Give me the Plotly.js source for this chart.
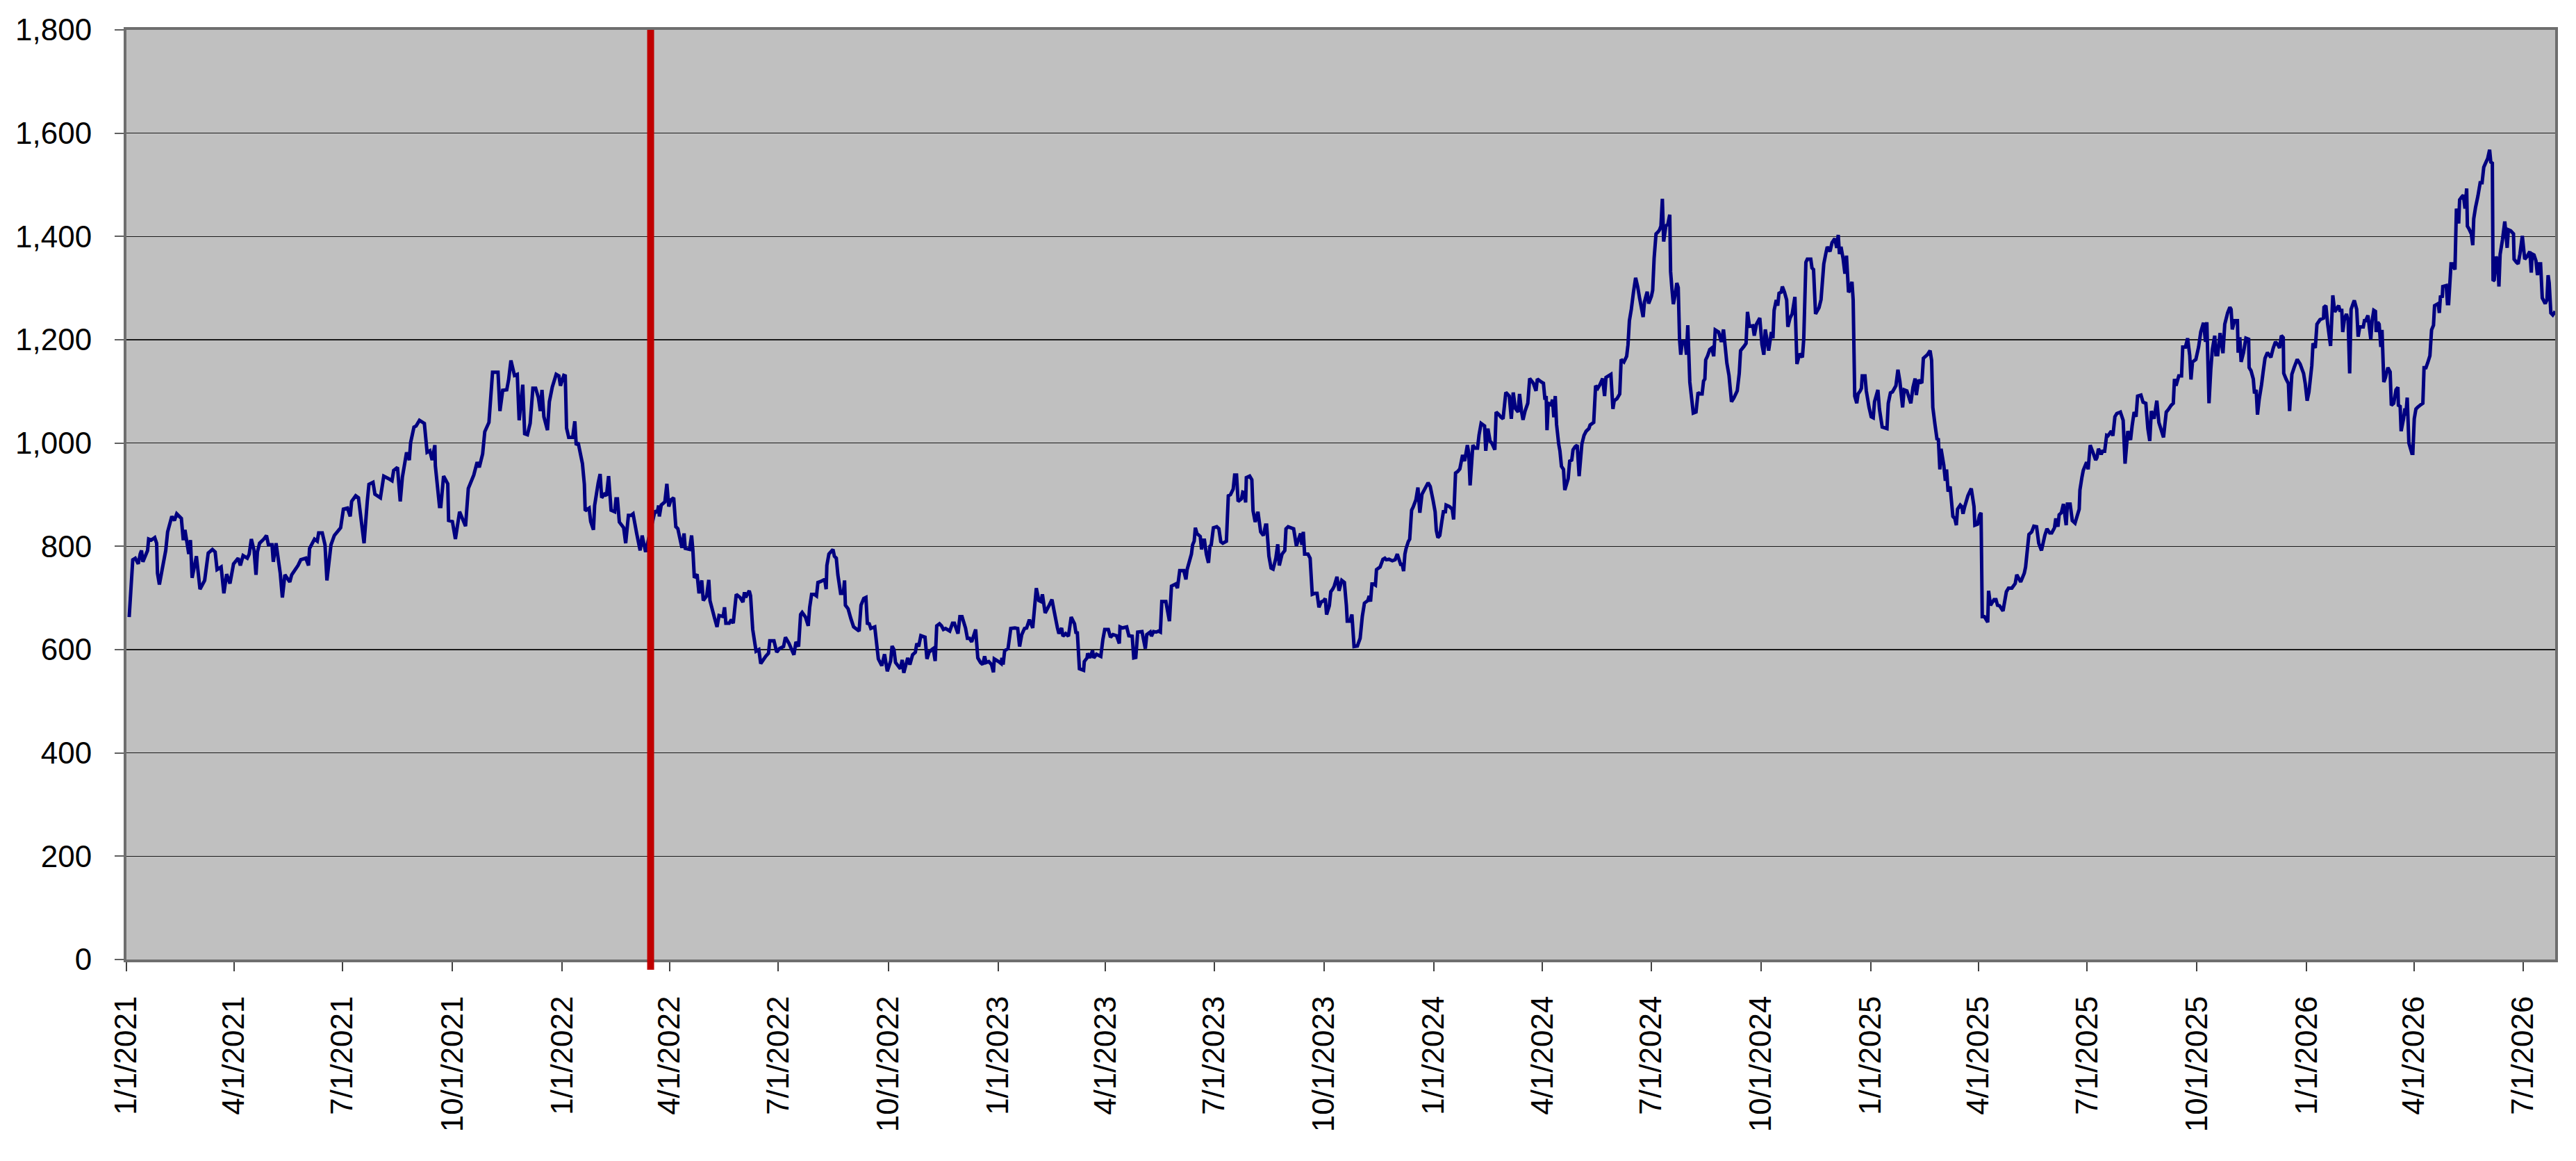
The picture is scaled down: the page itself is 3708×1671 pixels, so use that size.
<!DOCTYPE html>
<html>
<head>
<meta charset="utf-8">
<script src="https://cdn.plot.ly/plotly-3.0.1.min.js"></script>
<style>
html,body{margin:0;padding:0;background:#fff;}
#chart{width:3708px;height:1671px;}
</style>
</head>
<body>
<div id="chart"></div>
<script>
// Start date of the series; each observation is given as days elapsed since it.
const seriesStart = '2021-01-01';

const daysSinceStart = [
2.3,5.3,7.4,9.9,11.5,12.6,13.8,17.7,18.6,20.7,23.7,25.3,26.0,27.6,29.9,32.9,34.5,38.0,40.2,42.1,46.0,47.6,49.0,52.2,53.6,55.0,58.6,61.6,65.5,68.5,72.0,74.3,75.9,79.3,81.6,83.9,86.7,89.7,93.6,95.4,97.7,101.2,102.8,104.6,106.9,108.5,109.7,111.5,115.0,117.3,118.9,121.9,123.0,125.3,128.8,130.6,132.7,136.8,138.4,143.7,146.0,150.2,152.5,153.4,157.5,159.8,161.0,164.0,166.3,167.9,171.3,174.1,179.4,181.7,185.1,187.4,188.6,192.0,194.3,199.0,201.7,203.1,206.5,208.1,212.7,215.5,219.6,222.4,223.8,227.0,229.3,231.1,234.6,236.9,238.0,240.8,242.6,245.4,249.5,251.8,254.1,256.0,258.3,258.7,262.2,263.3,265.6,269.1,269.8,273.0,275.5,279.0,284.0,286.3,290.9,293.7,295.5,298.3,300.1,303.6,306.6,311.2,312.8,315.1,318.5,320.1,322.0,325.0,327.3,328.9,331.9,333.5,335.8,338.1,340.4,342.7,345.0,346.6,348.0,349.6,352.6,354.2,
356.6,359.9,362.2,363.5,366.3,367.5,368.6,370.4,373.7,375.5,376.7,378.3,381.9,383.5,384.2,387.5,388.8,391.1,392.1,395.1,396.7,398.0,400.3,402.0,403.8,405.9,408.9,410.0,411.2,412.8,416.4,418.1,420.4,422.7,424.3,427.3,430.2,431.9,434.8,442.7,444.5,445.7,446.3,447.9,450.9,452.6,454.2,456.0,458.3,460.1,461.8,465.2,467.0,468.0,471.6,473.3,474.4,475.6,477.9,479.5,481.8,483.1,485.9,487.7,488.7,492.3,494.6,496.3,499.7,500.9,502.0,504.8,506.6,508.2,510.7,513.9,516.3,517.6,518.6,521.6,522.7,524.5,527.3,529.6,531.2,535.4,537.7,538.8,542.3,544.6,546.9,550.3,551.9,554.9,559.0,560.7,562.9,564.6,565.9,568.7,571.0,572.2,573.8,576.1,577.9,579.1,581.4,584.8,586.0,586.6,588.3,591.7,592.9,594.5,595.8,598.1,600.4,601.4,602.1,604.4,606.7,609.0,613.6,615.2,617.5,619.3,620.5,622.1,623.4,626.7,629.7,632.6,634.9,637.2,640.0,641.2,642.8,644.1,648.1,649.7,651.0,654.3,656.1,658.4,660.7,661.9,663.5,665.3,668.8,670.4,672.2,674.5,675.7,677.3,678.6,680.9,682.6,684.2,686.0,689.5,691.8,693.4,696.4,698.0,699.8,
702.7,704.3,706.1,707.9,711.2,713.0,715.3,717.1,718.7,719.9,722.2,724.5,726.1,726.8,730.3,732.6,733.2,734.2,735.5,738.3,740.6,744.1,746.4,748.0,749.8,752.1,753.9,756.2,759.0,762.0,764.1,765.9,767.1,769.4,772.8,775.1,776.9,779.7,780.9,783.2,784.3,786.6,788.9,791.2,794.0,795.3,796.3,798.1,801.6,802.2,804.5,805.0,806.8,809.1,810.1,812.4,816.0,817.7,819.3,822.3,824.1,826.2,829.2,831.5,832.1,834.2,837.7,839.5,842.3,843.6,845.3,846.9,850.5,853.3,854.5,857.4,858.4,860.2,862.5,864.3,865.9,867.1,870.5,873.5,875.2,878.6,880.2,882.1,885.5,887.3,888.3,891.9,892.9,894.2,895.2,896.5,899.3,900.4,901.6,902.8,904.4,906.2,907.4,908.5,910.3,913.1,914.9,916.5,918.2,921.2,922.8,924.6,926.9,928.1,929.7,931.0,933.8,934.9,936.1,937.3,937.9,940.7,942.5,943.5,945.3,947.6,949.9,952.2,954.0,954.9,956.8,958.6,960.3,962.6,964.2,965.5,967.8,970.1,971.1,972.9,977.5,979.8,983.3,984.4,985.6,986.7,989.5,991.3,993.1,995.4,997.1,998.7,1000.5,1002.8,1004.0,1005.1,1007.4,1008.6,1010.2,1011.5,1013.8,1015.5,1017.8,1020.0,1021.7,1022.4,1024.7,1026.3,1028.1,1030.9,1033.2,1035.0,1036.8,1039.6,1040.8,1041.9,1043.1,1044.7,1046.0,1046.9,1049.9,1052.3,1053.9,
1055.1,1057.4,1060.2,1062.5,1064.3,1067.1,1068.4,1069.6,1070.7,1071.7,1073.5,1074.7,1076.3,1077.6,1079.9,1081.6,1083.2,1085.0,1087.3,1090.1,1091.9,1094.2,1096.0,1097.0,1098.3,1099.9,1101.6,1102.9,1104.6,1105.2,1108.0,1110.3,1111.5,1113.1,1114.9,1116.7,1119.0,1120.7,1123.0,1124.1,1125.3,1127.6,1129.2,1131.5,1132.8,1134.5,1137.4,1138.4,1140.2,1142.0,1143.7,1146.0,1147.1,1149.4,1151.2,1152.9,1155.2,1158.1,1159.8,1161.4,1163.2,1165.5,1166.7,1168.3,1169.6,1171.3,1173.6,1175.2,1178.2,1180.5,1181.6,1185.1,1186.7,1188.0,1189.0,1189.7,1190.8,1193.1,1194.3,1195.4,1196.6,1197.7,1199.5,1200.5,1201.8,1203.5,1204.6,1207.4,1208.7,1210.4,1211.5,1213.3,1215.0,1216.6,1218.9,1220.7,1222.5,1224.8,1225.8,1228.8,1230.4,1232.2,1234.0,1236.3,1237.9,1239.1,1243.2,1244.9,1246.0,1248.3,1250.6,1251.8,1254.1,1256.4,1257.5,1258.7,1260.3,1262.1,1263.9,1265.6,1267.2,1270.2,1271.3,1272.5,1273.6,1274.8,1277.1,1278.2,1279.4,1281.0,1282.8,1284.0,1285.1,1286.3,1287.4,1289.2,1290.9,1292.5,1293.2,1294.3,1295.5,1297.1,1298.4,1299.6,1300.7,1301.7,1303.0,1305.3,1306.5,1307.6,1309.3,1312.2,1314.5,1316.2,1317.8,1319.6,1320.8,1321.9,1322.6,1324.2,1326.0,1327.7,1329.3,1330.6,1333.4,1335.7,1337.5,1340.3,1342.1,1344.2,1346.1,1349.0,1350.7,1351.8,1354.6,1356.4,1357.6,1359.2,1362.1,1363.3,1365.1,1367.9,1369.7,1371.3,1372.5,1375.3,1377.6,1378.9,1379.9,1381.7,1382.9,1384.0,1385.8,1386.8,1388.6,1390.4,1391.4,1393.2,1395.0,1397.3,1399.0,1401.3,1403.6,
1404.7,1406.5,1407.7,1410.6,1411.6,1412.9,1414.6,1417.5,1419.2,1421.5,1423.1,1424.4,1426.7,1428.4,1430.7,1432.3,1433.6,1434.6,1435.9,1437.6,1439.2,1440.5,1442.2,1443.3,1445.1,1446.1,1447.4,1449.1,1450.2,1452.0,1453.0,1453.7,1456.0,1457.1,1459.4,1461.2,1462.9,1464.0,1466.8,1468.1,1470.4,1474.4,1475.5,1477.3,1479.0,1481.9,1483.6,1485.2,1487.5,1488.8,1491.1,1494.4,1496.2,1498.0,1499.0,1500.8,1503.6,1504.9,1508.2,1510.5,1511.8,1512.8,1514.6,1516.4,1517.4,1518.7,1519.7,1522.0,1523.3,1524.3,1525.6,1527.3,1529.6,1531.2,1532.5,1533.5,1535.8,1537.1,1538.1,1539.4,1542.2,1545.0,1547.3,1548.0,1550.3,1551.9,1553.2,1554.2,1556.0,1558.8,1559.5,1561.1,1564.1,1565.7,1567.0,1568.7,1571.6,1574.4,1576.2,1579.0,1581.8,1583.1,1586.4,1589.4,1590.5,1593.3,1595.6,1597.4,1599.7,1601.5,1603.8,1606.6,1608.4,1610.7,1612.4,1614.7,1615.8,1617.6,1618.6,1620.4,1622.2,1624.5,1625.5,1627.8,1629.6,1631.9,1635.4,1636.0,1637.7,1638.8,1641.6,1642.9,1644.6,1646.9,1649.2,1650.3,1651.5,1653.8,1654.9,1656.7,1658.4,1659.5,1662.3,1663.6,1665.3,1666.9,1669.9,1672.2,1673.8,1676.1,1678.4,1679.7,1681.4,1683.0,1684.3,1687.1,1688.9,1691.2,1692.9,1694.5,1695.8,1698.1,1700.4,1702.1,1703.7,1706.0,1708.3,1710.1,1712.4,1714.2,1715.2,1716.5,1718.8,1721.1,1722.1,1724.4,1726.2,1728.0,1729.0,1730.3,1733.1,1735.4,1737.2,1739.5,1741.2,1742.3,1744.1,
1745.6,1746.9,1748.9,1749.9,1751.4,1753.4,1755.8,1757.3,1759.7,1761.6,1762.6,1763.6,1765.5,1767.9,1768.5,1769.9,1771.0,1773.0,1775.0,1777.3,1777.7,1779.3,1781.2,1782.2,1783.6,1784.7,1786.1,1788.1,1789.4,1791.0,1793.0,1795.9,1797.9,1799.8,1801.8,1803.2,1804.7,1806.3,1806.7,1808.6,1810.6,1811.6,1813.5,1815.5,1818.0,1820.4,1823.3,1824.7,1826.3,1827.8,1830.2,1831.2,1833.1,1834.5,1837.1,1840.0,1840.4,1842.0,1843.5,1845.9,1847.8,1849.4,1852.7,1853.7,1855.3,1856.1,1857.6,1859.2,1860.6,1861.9,1863.1,1865.1,1865.8,1867.8,1869.0,1870.4,1873.3,1874.3,1875.3,1877.2,1879.6,1880.7,1882.1,1883.5,1884.1,1885.4,1886.6,1888.0,1889.0,1890.5,1891.9,1893.9,1895.8,1896.8,1898.8,1900.7,1902.3,1902.7,1904.2,1905.0,1907.0,1908.2,1908.9,1910.1,1911.5,1914.0,1914.8,1916.0,1917.4,1918.7,1921.3,1923.2,1924.2,1925.8,1927.2,1929.1,1930.5,1932.1,1933.0,1936.0,1937.0,1937.9,1939.5,1939.9,1942.8,1943.8,1944.8,1946.8,1948.1,1950.1,1951.3,1953.2,1954.0,1955.6,1957.1,1958.5,1959.9,1960.5,1961.8,1963.8,1965.0,1965.8,1967.3,1969.3,1971.2,1972.8,1974.2,1976.1,1977.5,1979.1,1980.1,1981.4,1982.0,1983.0,1984.6,1985.9,1986.9,1987.9,1989.9,1991.8,1993.8,1994.8,1996.7,1999.1,1999.6,2001.6,2003.0,2004.5,2006.5,2008.5,2010.4,2012.8,2014.0,2014.7,2016.3,2017.9,2019.2,2020.2,2021.8,2023.2,2025.7,2027.1,2028.1,2029.0,2030.4,2032.0,2033.5,2034.0
];

const values = [
663,774,777,766,785,792,770,792,814,812,817,806,748,726,755,792,828,858,850,863,854,812,832,785,812,739,781,717,734,787,794,789,755,760,709,746,728,766,777,763,782,777,785,814,792,745,789,806,814,821,803,803,770,806,748,701,745,731,745,763,774,777,763,796,814,810,826,826,803,734,803,821,836,872,874,858,887,898,894,806,887,920,924,901,894,936,931,927,947,953,887,934,982,967,1001,1031,1033,1044,1038,982,985,967,996,956,877,877,936,921,850,848,814,867,839,912,938,963,953,979,1022,1040,1137,1137,1062,1102,1103,1123,1160,1131,1133,1044,1113,1018,1016,1038,1106,1106,1088,1062,1103,1051,1025,1080,
1108,1133,1130,1111,1131,1130,1029,1011,1011,1042,996,1001,960,920,869,874,848,832,879,923,940,894,901,898,936,870,867,892,892,847,836,806,860,860,863,825,792,821,789,869,865,879,858,880,886,921,877,890,894,838,834,797,825,796,794,821,792,739,746,709,734,695,704,735,695,663,644,666,664,682,651,651,658,651,707,701,692,711,701,714,704,639,597,600,573,587,593,617,617,595,602,606,624,612,590,615,606,668,672,663,646,682,707,707,704,730,732,736,717,763,785,794,781,777,745,709,709,734,686,679,660,644,636,686,699,701,651,650,641,644,582,569,591,558,578,607,600,575,563,580,555,584,571,590,595,612,606,627,624,582,595,600,602,578,646,650,646,639,641,636,651,651,631,664,664,
642,622,622,615,639,584,575,571,587,575,577,571,556,582,577,573,584,571,598,602,641,642,641,606,629,641,642,658,642,719,695,693,707,671,686,697,675,642,631,642,626,631,626,663,650,631,635,563,560,577,584,593,584,598,584,591,587,619,639,639,624,629,627,612,644,642,644,627,626,584,585,634,635,602,629,634,626,635,634,636,634,693,693,655,723,727,719,753,753,736,755,785,803,810,836,825,819,794,812,812,785,768,800,803,836,838,834,809,806,810,898,900,911,938,938,887,892,905,904,885,933,936,929,869,847,867,828,821,841,841,781,758,756,777,804,763,785,792,834,838,834,801,825,803,828,785,785,777,707,709,709,682,692,695,699,668,685,712,717,723,741,714,734,730,685,655,655,668,606,607,622,664,690,695,704,693,727,727,725,755,760,775,777,
774,775,772,774,785,765,765,752,785,796,809,814,870,876,890,914,865,901,911,923,916,890,867,831,817,821,848,867,867,880,877,872,852,942,945,950,977,965,996,982,918,996,990,990,1016,1038,1033,985,1028,1004,999,987,1060,1055,1050,1047,1098,1091,1047,1098,1067,1060,1095,1062,1045,1062,1077,1125,1116,1101,1124,1118,1116,1084,1091,1025,1077,1074,1084,1050,1091,1036,998,985,955,949,909,931,965,967,987,993,996,936,998,1015,1023,1028,1035,1040,1111,1106,1113,1125,1091,1127,1133,1066,1082,1086,1095,1162,1157,1168,1190,1237,1259,1292,1320,1303,1281,1244,1273,1284,1293,1270,1284,1296,1358,1405,1409,1413,1420,1473,1390,1420,1424,1442,1332,1299,1269,1288,1310,1301,1201,1171,1196,1197,1171,1228,1118,1058,1060,1098,1095,1095,1120,1124,1161,1169,1181,1184,1168,1219,1215,1196,1220,1155,1131,1080,1087,1101,1135,1179,1187,1193,1254,1226,1227,1208,1230,1242,1191,1171,1220,1179,1215,1203,1257,1277,1266,1290,1292,1303,1292,1277,1225,1242,1250,1283,1153,1173,1166,
1201,1350,1356,1356,1339,1336,1250,1262,1278,1347,1366,1380,1371,1388,1396,1378,1403,1366,1380,1358,1328,1363,1292,1296,1312,1277,1091,1077,1095,1101,1106,1130,1130,1101,1069,1051,1049,1080,1103,1066,1031,1028,1077,1097,1099,1111,1142,1120,1069,1103,1101,1077,1108,1125,1093,1122,1116,1164,1171,1179,1160,1069,1036,1006,1009,949,989,957,927,949,906,916,858,854,841,872,880,877,863,876,898,912,877,841,843,860,865,664,664,653,714,686,697,697,686,685,675,712,719,719,728,745,731,748,760,823,828,839,838,806,792,821,834,826,826,836,854,838,861,865,882,841,882,882,850,845,872,909,934,947,963,949,996,982,967,972,989,978,984,984,1015,1014,1023,1014,1051,1057,1060,1044,960,1023,1006,1033,1060,1051,1091,1093,1079,1077,1028,1004,1062,1047,1082,1040,1028,1011,1060,1065,1073,1077,1124,1111,1130,1130,1186,1186,1203,1169,1123,1157,1162,1186,1215,1233,1196,1234,1077,
1142,1181,1208,1171,1171,1213,1174,1230,1252,1263,1259,1220,1237,1237,1175,1205,1157,1175,1203,1201,1146,1140,1124,1096,1103,1055,1084,1113,1137,1164,1175,1166,1184,1196,1190,1184,1208,1204,1135,1124,1115,1062,1133,1147,1162,1153,1135,1115,1082,1099,1150,1193,1184,1230,1239,1242,1263,1266,1230,1188,1286,1254,1266,1257,1257,1215,1241,1250,1237,1135,1259,1272,1276,1259,1206,1225,1225,1237,1237,1247,1201,1237,1257,1255,1215,1234,1230,1186,1219,1118,1127,1146,1138,1073,1077,1103,1108,1073,1071,1023,1047,1067,1053,1088,1000,980,980,1047,1066,1069,1074,1077,1146,1146,1155,1169,1219,1228,1266,1270,1252,1283,1284,1303,1305,1270,1270,1347,1347,1336,1454,1425,1471,1476,1480,1454,1493,1420,1415,1405,1383,1434,1456,1478,1504,1504,1534,1544,1551,1568,1544,1542,1314,1316,1361,1351,1303,1365,1394,1429,1378,1413,1411,1405,1356,1350,1347,1366,1401,1356,1361,1371,1330,1366,1364,1353,1325,1347,1347,1281,1270,1277,1325,1310,1252,1248,1253,1255
];

// Date of the vertical marker line
const markerDate = '2022-03-16';

// Axis extent and tick labels
const axisStart = '2021-01-01';
const axisEnd = '2026-07-28';
const tickDates = ['2021-01-01','2021-04-01','2021-07-01','2021-10-01','2022-01-01','2022-04-01','2022-07-01','2022-10-01','2023-01-01','2023-04-01','2023-07-01','2023-10-01','2024-01-01','2024-04-01','2024-07-01','2024-10-01','2025-01-01','2025-04-01','2025-07-01','2025-10-01','2026-01-01','2026-04-01','2026-07-01'];
const tickLabels = ['1/1/2021','4/1/2021','7/1/2021','10/1/2021','1/1/2022','4/1/2022','7/1/2022','10/1/2022','1/1/2023','4/1/2023','7/1/2023','10/1/2023','1/1/2024','4/1/2024','7/1/2024','10/1/2024','1/1/2025','4/1/2025','7/1/2025','10/1/2025','1/1/2026','4/1/2026','7/1/2026'];
const yRange = [0, 1800];
const yStep = 200;

// Build date strings for the library's date axis
const startMs = Date.parse(seriesStart + 'T00:00:00Z');
const dates = daysSinceStart.map(d => {
  const t = new Date(startMs + d * 86400000);
  return t.toISOString().slice(0, 19).replace('T', ' ');
});

const font = {family: '"Liberation Sans", Arial, sans-serif', size: 44, color: '#000'};

const trace = {
  x: dates,
  y: values,
  type: 'scatter',
  mode: 'lines',
  line: {color: '#000080', width: 5, simplify: false},
  hoverinfo: 'skip'
};

const layout = {
  width: 3708,
  height: 1671,
  margin: {l: 182, r: 30, t: 43, b: 290},
  paper_bgcolor: '#ffffff',
  plot_bgcolor: '#c0c0c0',
  showlegend: false,
  font: font,
  xaxis: {
    type: 'date',
    range: [axisStart, axisEnd],
    tickmode: 'array',
    tickvals: tickDates,
    ticktext: tickLabels,
    tickangle: -90,
    tickfont: font,
    ticks: 'outside',
    ticklen: 13,
    tickwidth: 2,
    tickcolor: '#404040',
    ticklabelstandoff: 18,
    showgrid: false,
    zeroline: false,
    showline: true,
    linecolor: '#6e6e6e',
    linewidth: 4,
    mirror: true
  },
  yaxis: {
    range: yRange,
    dtick: yStep,
    tick0: 0,
    tickformat: ',d',
    tickfont: font,
    ticks: 'outside',
    ticklen: 13,
    tickwidth: 2,
    tickcolor: '#606060',
    ticklabelstandoff: 24,
    showgrid: true,
    gridcolor: '#1a1a1a',
    gridwidth: 1.5,
    zeroline: false,
    showline: true,
    linecolor: '#6e6e6e',
    linewidth: 4,
    mirror: true
  },
  shapes: [{
    type: 'line',
    xref: 'x',
    yref: 'paper',
    x0: markerDate,
    x1: markerDate,
    y0: -0.011,
    y1: 1,
    layer: 'above',
    line: {color: '#c00000', width: 10}
  }]
};

Plotly.newPlot('chart', [trace], layout, {displayModeBar: false, staticPlot: true});
</script>
</body>
</html>
